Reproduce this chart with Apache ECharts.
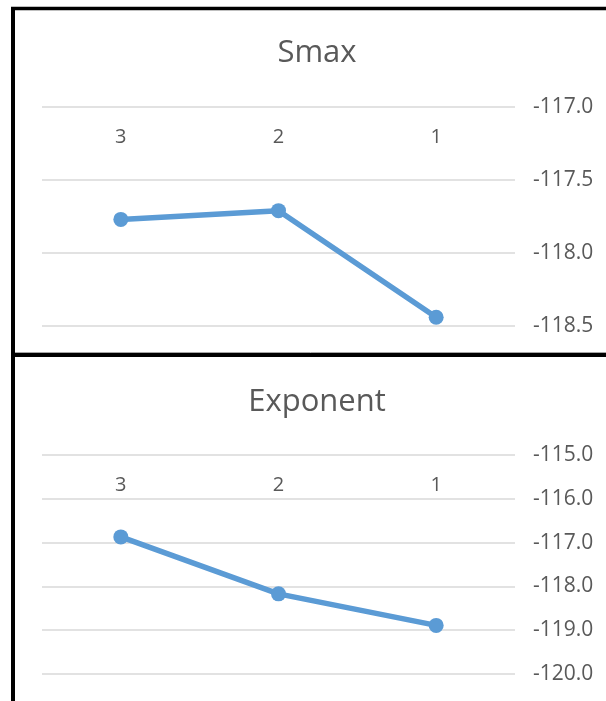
<!DOCTYPE html>
<html>
<head>
<meta charset="utf-8">
<script src="https://cdn.jsdelivr.net/npm/echarts@6/dist/echarts.min.js"></script>
<style>
  html, body { margin: 0; padding: 0; background: #fff; }
  #chart { width: 606px; height: 701px; }
</style>
</head>
<body>
<div id="chart"></div>
<script>
// Categories shared by both panels
const categories = ['3', '2', '1'];

// Panel titles
const smaxTitle = 'Smax';
const exponentTitle = 'Exponent';

// Series values
const smaxValues = [-117.77, -117.71, -118.44];
const exponentValues = [-116.87, -118.17, -118.89];

// Value-axis ranges
const smaxAxis = { min: -118.5, max: -117.0, interval: 0.5 };
const exponentAxis = { min: -120.0, max: -115.0, interval: 1.0 };

const FONT = '"Open Sans", "Liberation Sans", sans-serif';
const TEXT_COLOR = '#595959';
const LINE_COLOR = '#5b9bd5';
const GRID_COLOR = '#d9d9d9';

function xAxisFor(gridIndex) {
  return {
    type: 'category',
    gridIndex: gridIndex,
    data: categories,
    position: 'top',
    boundaryGap: true,
    axisLine: { show: false },
    axisTick: { show: false },
    splitLine: { show: false },
    axisLabel: {
      inside: true,
      margin: 20,
      color: TEXT_COLOR,
      fontFamily: FONT,
      fontSize: 20
    }
  };
}

function yAxisFor(gridIndex, range) {
  return {
    type: 'value',
    gridIndex: gridIndex,
    position: 'right',
    min: range.min,
    max: range.max,
    interval: range.interval,
    axisLine: { show: false },
    axisTick: { show: false },
    splitLine: { show: true, lineStyle: { color: GRID_COLOR, width: 1.5 } },
    axisLabel: {
      margin: 18,
      color: TEXT_COLOR,
      fontFamily: FONT,
      fontSize: 21,
      formatter: v => v.toFixed(1)
    }
  };
}

function lineSeries(index, values) {
  return {
    type: 'line',
    xAxisIndex: index,
    yAxisIndex: index,
    data: values,
    symbol: 'circle',
    symbolSize: 15,
    lineStyle: { color: LINE_COLOR, width: 5.5 },
    itemStyle: { color: LINE_COLOR },
    animation: false
  };
}

const chart = echarts.init(document.getElementById('chart'), null, { renderer: 'canvas' });

chart.setOption({
  backgroundColor: '#ffffff',
  animation: false,
  title: [
    {
      text: smaxTitle, left: 312, top: 33, textAlign: 'center',
      textStyle: { color: TEXT_COLOR, fontFamily: FONT, fontSize: 31, fontWeight: 'normal' }
    },
    {
      text: exponentTitle, left: 312, top: 382, textAlign: 'center',
      textStyle: { color: TEXT_COLOR, fontFamily: FONT, fontSize: 31, fontWeight: 'normal' }
    }
  ],
  grid: [
    { left: 42, right: 91, top: 107, height: 219, containLabel: false },
    { left: 42, right: 91, top: 455, height: 219, containLabel: false }
  ],
  xAxis: [xAxisFor(0), xAxisFor(1)],
  yAxis: [yAxisFor(0, smaxAxis), yAxisFor(1, exponentAxis)],
  series: [lineSeries(0, smaxValues), lineSeries(1, exponentValues)],
  graphic: [
    // panel frames
    { type: 'line', shape: { x1: 13, y1: 7, x2: 13, y2: 701 }, style: { stroke: '#000', lineWidth: 4 } },
    { type: 'line', shape: { x1: 11, y1: 8.5, x2: 606, y2: 8.5 }, style: { stroke: '#000', lineWidth: 3.5 } },
    { type: 'line', shape: { x1: 15, y1: 352.5, x2: 606, y2: 352.5 }, style: { stroke: '#a6a6a6', lineWidth: 1 } },
    { type: 'line', shape: { x1: 11, y1: 355, x2: 606, y2: 355 }, style: { stroke: '#000', lineWidth: 4 } }
  ]
});
</script>
</body>
</html>
